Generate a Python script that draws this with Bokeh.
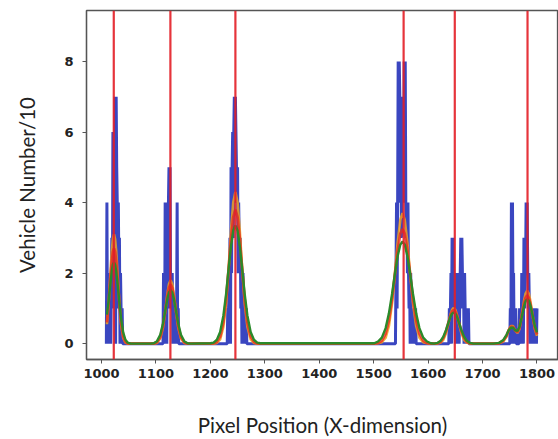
from bokeh.plotting import figure
from bokeh.models import Range1d, Span, FixedTicker
from bokeh.embed import file_html
from bokeh.resources import INLINE

# ---- data ----
# blue per-pixel vehicle counts (/10), one list per cluster, with its first pixel position
blue_starts = [1009, 1113, 1231, 1540, 1638, 1750]
blue_counts = [
    [0, 4, 0, 1, 2, 0, 2, 1, 0, 2, 3, 1, 6, 2, 6, 4, 7, 0, 7, 5, 4, 1, 4, 2, 3, 0, 2, 1, 0, 1, 0],
    [0, 2, 1, 0, 4, 1, 4, 0, 4, 1, 4, 5, 2, 5, 1, 2, 1, 2, 0, 1, 0, 1, 0, 1, 0, 1, 4, 0, 1, 0],
    [0, 1, 0, 2, 1, 3, 0, 5, 2, 5, 6, 3, 6, 7, 4, 7, 6, 5, 4, 5, 2, 4, 3, 2, 3, 1, 2, 0, 1, 2, 0, 1, 0, 1, 0, 1, 0],
    [0, 2, 4, 1, 4, 8, 6, 8, 7, 4, 7, 3, 6, 5, 7, 4, 8, 6, 8, 4, 3, 4, 2, 4, 2, 1, 2, 0, 2, 1, 0, 1, 0, 1, 0, 1, 0, 1, 0],
    [0, 1, 0, 1, 2, 0, 3, 1, 3, 2, 1, 2, 0, 1, 2, 0, 1, 2, 1, 0, 1, 2, 3, 1, 3, 2, 1, 2, 0, 2, 1, 0, 1, 0, 1, 0, 1, 0],
    [0, 1, 0, 4, 0, 4, 1, 2, 0, 1, 0, 1, 0, 0, 0, 0, 0, 0, 1, 0, 1, 0, 2, 1, 2, 0, 3, 1, 3, 2,
     4, 3, 4, 2, 1, 2, 1, 0, 1, 0, 1, 0, 1, 0, 1, 0, 1, 0, 1, 0, 1],
]

# detected lane centres (red vertical lines)
lane_centres = [1022.6, 1126.6, 1246, 1555, 1649, 1782.6]

# smooth fitted curves, sampled positions and values
curve_x = [1010, 1013, 1016, 1019, 1021, 1023, 1025, 1027, 1030, 1033, 1036, 1040, 1044, 1048, 1054,
           1090, 1096, 1102, 1108, 1113, 1117, 1121, 1124, 1127, 1130, 1133, 1137, 1141, 1146, 1152, 1158, 1164,
           1200, 1206, 1212, 1218, 1224, 1229, 1234, 1238, 1242, 1246, 1250, 1254, 1258, 1263, 1268, 1274, 1280, 1286, 1292,
           1501, 1508, 1515, 1522, 1528, 1534, 1539, 1544, 1549, 1553, 1557, 1562, 1567, 1572, 1578, 1584, 1591, 1598, 1605,
           1611, 1617, 1623, 1628, 1633, 1637, 1641, 1644, 1647, 1650, 1653, 1657, 1661, 1666, 1671, 1677, 1683, 1689,
           1720, 1730, 1738, 1744, 1748, 1752, 1756, 1760, 1764, 1768, 1772, 1776, 1779, 1782, 1785, 1788, 1792, 1796, 1800]
green_y = [0.82, 1.2, 1.64, 2.06, 2.24, 2.3, 2.24, 2.06, 1.64, 1.15, 0.71, 0.31, 0.11, 0.03, 0.0,
           0.0, 0.01, 0.07, 0.25, 0.57, 0.92, 1.27, 1.45, 1.52, 1.45, 1.27, 0.92, 0.57, 0.25, 0.07, 0.01, 0.0,
           0.01, 0.03, 0.11, 0.33, 0.8, 1.42, 2.19, 2.77, 3.2, 3.35, 3.2, 2.77, 2.19, 1.42, 0.8, 0.33, 0.11, 0.03, 0.01,
           0.01, 0.06, 0.17, 0.44, 0.86, 1.43, 1.98, 2.48, 2.81, 2.9, 2.81, 2.48, 1.98, 1.43, 0.86, 0.44, 0.17, 0.06, 0.01,
           0.0, 0.02, 0.08, 0.2, 0.39, 0.58, 0.76, 0.85, 0.88, 0.85, 0.76, 0.58, 0.39, 0.2, 0.08, 0.02, 0.0, 0.0,
           0.0, 0.02, 0.1, 0.25, 0.38, 0.45, 0.45, 0.38, 0.36, 0.48, 0.75, 1.05, 1.2, 1.26, 1.22, 1.08, 0.8, 0.5, 0.32]
orange_y = [0.55, 1.12, 1.89, 2.64, 2.97, 3.1, 2.97, 2.64, 1.89, 1.12, 0.55, 0.16, 0.03, 0.0, 0.0,
            0.0, 0.0, 0.02, 0.15, 0.46, 0.9, 1.4, 1.69, 1.8, 1.69, 1.4, 0.9, 0.46, 0.15, 0.02, 0.0, 0.0,
            0.0, 0.0, 0.02, 0.12, 0.48, 1.16, 2.24, 3.22, 4.0, 4.3, 4.0, 3.22, 2.24, 1.16, 0.48, 0.12, 0.02, 0.0, 0.0,
            0.0, 0.01, 0.04, 0.17, 0.5, 1.17, 1.98, 2.86, 3.52, 3.7, 3.52, 2.86, 1.98, 1.17, 0.5, 0.17, 0.04, 0.01, 0.0,
            0.0, 0.0, 0.03, 0.11, 0.3, 0.55, 0.82, 0.96, 1.02, 0.96, 0.82, 0.55, 0.3, 0.11, 0.03, 0.0, 0.0, 0.0,
            0.0, 0.01, 0.06, 0.2, 0.38, 0.5, 0.5, 0.38, 0.3, 0.42, 0.8, 1.2, 1.42, 1.5, 1.42, 1.2, 0.8, 0.42, 0.22]
red_y = [0.6, 1.11, 1.75, 2.34, 2.6, 2.7, 2.6, 2.34, 1.75, 1.11, 0.6, 0.21, 0.05, 0.01, 0.0,
         0.0, 0.0, 0.04, 0.18, 0.5, 0.91, 1.34, 1.59, 1.68, 1.59, 1.34, 0.91, 0.5, 0.18, 0.04, 0.0, 0.0,
         0.0, 0.01, 0.05, 0.2, 0.61, 1.27, 2.2, 2.98, 3.58, 3.8, 3.58, 2.98, 2.2, 1.27, 0.61, 0.2, 0.05, 0.01, 0.0,
         0.0, 0.02, 0.08, 0.28, 0.66, 1.29, 1.97, 2.64, 3.12, 3.25, 3.12, 2.64, 1.97, 1.29, 0.66, 0.28, 0.08, 0.02, 0.0,
         0.0, 0.01, 0.05, 0.16, 0.36, 0.58, 0.79, 0.91, 0.95, 0.91, 0.79, 0.58, 0.36, 0.16, 0.05, 0.01, 0.0, 0.0,
         0.0, 0.01, 0.08, 0.22, 0.38, 0.48, 0.47, 0.37, 0.33, 0.45, 0.78, 1.12, 1.3, 1.37, 1.3, 1.12, 0.78, 0.45, 0.26]

x_ticks = [1000, 1100, 1200, 1300, 1400, 1500, 1600, 1700, 1800]
y_ticks = [0, 2, 4, 6, 8]

# ---- build blue trace ----
blue_x, blue_y = [], []
for start, counts in zip(blue_starts, blue_counts):
    for i, c in enumerate(counts):
        blue_x.append(start + i)
        blue_y.append(c)

p = figure(width=558, height=439, output_backend="svg", toolbar_location=None,
           x_range=Range1d(972.5, 1839.5), y_range=Range1d(-0.45, 9.45),
           min_border_left=86, min_border_right=0, min_border_top=10, min_border_bottom=79)
p.background_fill_color = "white"
p.border_fill_color = "white"
p.xgrid.visible = False
p.ygrid.visible = False
p.outline_line_color = "#555555"
p.outline_line_width = 1.3

p.line(blue_x, blue_y, line_color="#3a46c0", line_width=3.0)

for c in lane_centres:
    p.add_layout(Span(location=c, dimension="height", line_color="#e31e26",
                      line_width=2.2, line_alpha=0.9))

p.line(curve_x, orange_y, line_color="#f0a020", line_width=2.6, line_alpha=0.85)
p.line(curve_x, red_y, line_color="#e82a1e", line_width=2.8, line_alpha=0.8)
p.line(curve_x, green_y, line_color="#2a8a2a", line_width=2.4)

for ax in (p.xaxis[0], p.yaxis[0]):
    ax.axis_line_color = "#555555"
    ax.axis_line_width = 1.3
    ax.major_tick_line_color = "#555555"
    ax.major_tick_out = 4
    ax.major_tick_in = 0
    ax.minor_tick_out = 0
    ax.minor_tick_in = 0
    ax.major_label_text_font = "DejaVu Sans"
    ax.major_label_text_font_style = "bold"
    ax.major_label_text_font_size = "13px"
    ax.major_label_text_color = "#222222"
    ax.axis_label_text_font = "Lato"
    ax.axis_label_text_font_style = "normal"
    ax.axis_label_text_font_size = "20.5px"
    ax.axis_label_text_color = "#222222"

p.xaxis.ticker = FixedTicker(ticks=x_ticks)
p.yaxis.ticker = FixedTicker(ticks=y_ticks)
p.xaxis.axis_label = "Pixel Position (X-dimension)"
p.yaxis.axis_label = "Vehicle Number/10"
p.xaxis.major_label_standoff = 5
p.yaxis.major_label_standoff = 9
p.xaxis.axis_label_standoff = 32
p.yaxis.axis_label_standoff = 22

open("out.html", "w").write(file_html(p, INLINE))
